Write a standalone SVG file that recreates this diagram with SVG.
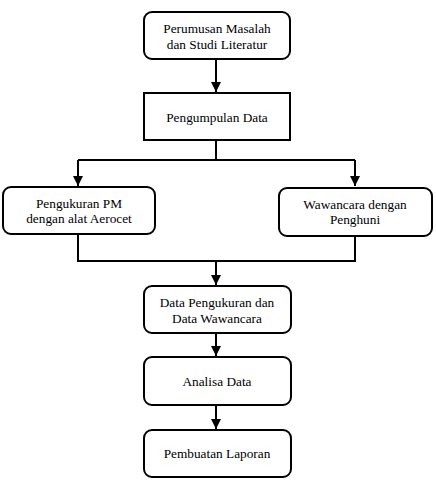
<svg xmlns="http://www.w3.org/2000/svg" width="436" height="486" viewBox="0 0 436 486">
<style>
.box{fill:#fff;stroke:#000;stroke-width:2}
.t{font-family:'Liberation Serif','DejaVu Serif',serif;font-size:13.3px;fill:#000;text-anchor:middle}
.ln{fill:none;stroke:#000;stroke-width:2}
</style>
<defs>
<marker id="ah" viewBox="0 0 10 10" refX="10" refY="5" markerWidth="5" markerHeight="5" markerUnits="strokeWidth" orient="auto">
<path d="M0,0 L10,5 L0,10 z" fill="#000"/>
</marker>
</defs>
<rect width="436" height="486" fill="#fff"/>
<g id="connectors">
<path class="ln" d="M216,59 V92" marker-end="url(#ah)"/>
<path class="ln" d="M216,140 V160"/>
<path class="ln" d="M78,160 H355"/>
<path class="ln" d="M78,160 V186" marker-end="url(#ah)"/>
<path class="ln" d="M355,160 V186" marker-end="url(#ah)"/>
<path class="ln" d="M78,234 V261 H355 V236"/>
<path class="ln" d="M216,261 V285" marker-end="url(#ah)"/>
<path class="ln" d="M216,333 V356" marker-end="url(#ah)"/>
<path class="ln" d="M216,405 V429" marker-end="url(#ah)"/>
</g>
<g id="n1">
<rect class="box" x="144" y="12" width="146" height="47" rx="8"/>
<text class="t" x="217" y="33">Perumusan Masalah</text>
<text class="t" x="217" y="49">dan Studi Literatur</text>
</g>
<g id="n2">
<rect class="box" x="144" y="93" width="146" height="47"/>
<text class="t" x="217" y="122">Pengumpulan Data</text>
</g>
<g id="n3">
<rect class="box" x="3" y="187" width="152" height="47" rx="8"/>
<text class="t" x="79" y="208">Pengukuran PM</text>
<text class="t" x="79" y="223">dengan alat Aerocet</text>
</g>
<g id="n4">
<rect class="box" x="279" y="188" width="153" height="48" rx="8"/>
<text class="t" x="355" y="209">Wawancara dengan</text>
<text class="t" x="355" y="224">Penghuni</text>
</g>
<g id="n5">
<rect class="box" x="144" y="286" width="147" height="47" rx="8"/>
<text class="t" x="217" y="307">Data Pengukuran dan</text>
<text class="t" x="217" y="323">Data Wawancara</text>
</g>
<g id="n6">
<rect class="box" x="144" y="357" width="147" height="48" rx="8"/>
<text class="t" x="217" y="386">Analisa Data</text>
</g>
<g id="n7">
<rect class="box" x="144" y="430" width="147" height="47" rx="8"/>
<text class="t" x="217" y="458">Pembuatan Laporan</text>
</g>
</svg>
